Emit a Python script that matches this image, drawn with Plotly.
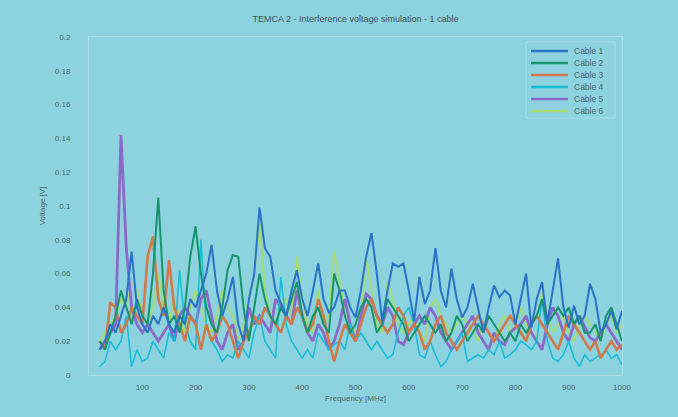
import plotly.graph_objects as go

freq_mhz = list(range(20, 1001, 10))

cable1 = [0.015, 0.02, 0.03, 0.025, 0.035, 0.045, 0.073, 0.04, 0.03, 0.025,
          0.035, 0.03, 0.04, 0.03, 0.025, 0.035, 0.03, 0.045, 0.04, 0.05,
          0.06, 0.077, 0.05, 0.035, 0.045, 0.058, 0.03, 0.02, 0.045, 0.06,
          0.099, 0.075, 0.07, 0.05, 0.042, 0.035, 0.05, 0.062, 0.045, 0.035,
          0.05, 0.066, 0.045, 0.037, 0.04, 0.05, 0.05, 0.04, 0.034, 0.05,
          0.07, 0.084, 0.06, 0.032, 0.05, 0.066, 0.064, 0.066, 0.05, 0.032,
          0.058, 0.042, 0.05, 0.075, 0.05, 0.04, 0.063, 0.045, 0.034, 0.04,
          0.054, 0.04, 0.025, 0.04, 0.053, 0.046, 0.05, 0.047, 0.03, 0.045,
          0.06, 0.028, 0.045, 0.055, 0.031, 0.05, 0.069, 0.04, 0.028, 0.041,
          0.03, 0.035, 0.054, 0.045, 0.025, 0.03, 0.038, 0.027, 0.038]

cable2 = [0.02, 0.015, 0.025, 0.035, 0.05, 0.04, 0.03, 0.045, 0.035, 0.03,
          0.06, 0.105, 0.05, 0.03, 0.035, 0.025, 0.04, 0.07, 0.088, 0.06,
          0.04, 0.03, 0.025, 0.04, 0.062, 0.071, 0.07, 0.04, 0.02, 0.04,
          0.06, 0.045, 0.035, 0.03, 0.04, 0.035, 0.045, 0.055, 0.035, 0.025,
          0.035, 0.04, 0.03, 0.025, 0.06, 0.05, 0.035, 0.025, 0.03, 0.04,
          0.045, 0.04, 0.025, 0.03, 0.045, 0.04, 0.035, 0.03, 0.02, 0.025,
          0.03, 0.035, 0.03, 0.025, 0.03, 0.02, 0.025, 0.035, 0.03, 0.02,
          0.025, 0.03, 0.025, 0.035, 0.03, 0.025, 0.02, 0.025, 0.02, 0.03,
          0.025, 0.03, 0.035, 0.045, 0.03, 0.035, 0.04, 0.035, 0.04, 0.03,
          0.035, 0.025, 0.025, 0.03, 0.02, 0.035, 0.04, 0.03, 0.02]

cable3 = [0.02, 0.015, 0.043, 0.04, 0.025, 0.03, 0.04, 0.035, 0.03, 0.07,
          0.082, 0.045, 0.035, 0.068, 0.04, 0.03, 0.02, 0.035, 0.03, 0.015,
          0.03, 0.02, 0.025, 0.035, 0.03, 0.02, 0.01, 0.02, 0.025, 0.035,
          0.03, 0.04, 0.035, 0.03, 0.025, 0.035, 0.03, 0.04, 0.035, 0.025,
          0.03, 0.045, 0.035, 0.02, 0.008, 0.02, 0.03, 0.025, 0.02, 0.03,
          0.04, 0.045, 0.035, 0.03, 0.025, 0.03, 0.04, 0.035, 0.025, 0.03,
          0.025, 0.015, 0.02, 0.03, 0.035, 0.025, 0.02, 0.015, 0.02, 0.025,
          0.03, 0.035, 0.03, 0.025, 0.02, 0.025, 0.03, 0.035, 0.03, 0.025,
          0.02, 0.03, 0.035, 0.03, 0.025, 0.02, 0.015, 0.025, 0.035, 0.03,
          0.025, 0.02, 0.015, 0.02, 0.01, 0.015, 0.02, 0.015, 0.018]

cable4 = [0.005, 0.008, 0.02, 0.015, 0.02, 0.035, 0.005, 0.015, 0.008, 0.01,
          0.02, 0.015, 0.01, 0.025, 0.02, 0.062, 0.03, 0.02, 0.015, 0.08,
          0.03, 0.02, 0.015, 0.008, 0.012, 0.01, 0.02, 0.015, 0.01, 0.025,
          0.035, 0.02, 0.015, 0.01, 0.058, 0.03, 0.02, 0.015, 0.01, 0.015,
          0.01, 0.025, 0.02, 0.015, 0.018, 0.02, 0.015, 0.03, 0.02, 0.025,
          0.02, 0.015, 0.02, 0.015, 0.01, 0.012, 0.025, 0.035, 0.04, 0.03,
          0.012, 0.01, 0.02, 0.012, 0.005, 0.008, 0.015, 0.02, 0.025, 0.008,
          0.01, 0.012, 0.01, 0.015, 0.012, 0.02, 0.01, 0.012, 0.015, 0.02,
          0.018, 0.015, 0.02, 0.045, 0.02, 0.01, 0.008, 0.012, 0.02, 0.01,
          0.005, 0.012, 0.008, 0.01, 0.012, 0.015, 0.01, 0.012, 0.006]

cable5 = [0.015, 0.02, 0.025, 0.03, 0.142, 0.075, 0.04, 0.03, 0.025, 0.03,
          0.025, 0.02, 0.025, 0.03, 0.02, 0.035, 0.04, 0.035, 0.03, 0.045,
          0.05, 0.035, 0.02, 0.015, 0.025, 0.03, 0.015, 0.02, 0.04, 0.03,
          0.035, 0.03, 0.025, 0.045, 0.04, 0.035, 0.03, 0.05, 0.035, 0.025,
          0.02, 0.03, 0.025, 0.015, 0.02, 0.03, 0.045, 0.03, 0.02, 0.035,
          0.048, 0.045, 0.035, 0.03, 0.04, 0.035, 0.02, 0.018, 0.025, 0.03,
          0.035, 0.03, 0.04, 0.035, 0.025, 0.02, 0.015, 0.02, 0.025, 0.03,
          0.035, 0.025, 0.02, 0.015, 0.025, 0.02, 0.018, 0.025, 0.028, 0.03,
          0.035, 0.025, 0.02, 0.015, 0.03, 0.04, 0.035, 0.025, 0.02, 0.03,
          0.035, 0.028, 0.022, 0.02, 0.025, 0.03, 0.025, 0.02, 0.015]

cable6 = [0.02, 0.025, 0.03, 0.035, 0.045, 0.04, 0.055, 0.05, 0.035, 0.03,
          0.04, 0.06, 0.04, 0.03, 0.045, 0.035, 0.025, 0.04, 0.05, 0.04,
          0.03, 0.025, 0.035, 0.05, 0.04, 0.035, 0.02, 0.03, 0.045, 0.06,
          0.09, 0.05, 0.035, 0.03, 0.04, 0.045, 0.035, 0.07, 0.045, 0.03,
          0.025, 0.05, 0.03, 0.035, 0.073, 0.055, 0.04, 0.03, 0.025, 0.03,
          0.07, 0.05, 0.03, 0.025, 0.055, 0.045, 0.03, 0.025, 0.03, 0.035,
          0.025, 0.02, 0.04, 0.045, 0.035, 0.03, 0.025, 0.03, 0.035, 0.03,
          0.025, 0.02, 0.03, 0.025, 0.02, 0.03, 0.035, 0.025, 0.03, 0.04,
          0.03, 0.025, 0.02, 0.05, 0.035, 0.025, 0.03, 0.035, 0.025, 0.02,
          0.03, 0.035, 0.03, 0.025, 0.02, 0.03, 0.035, 0.025, 0.03]

series_names = ["Cable 1", "Cable 2", "Cable 3", "Cable 4", "Cable 5", "Cable 6"]
series_values = [cable1, cable2, cable3, cable4, cable5, cable6]

x_ticks = [100, 200, 300, 400, 500, 600, 700, 800, 900, 1000]
y_ticks = [0, 0.02, 0.04, 0.06, 0.08, 0.1, 0.12, 0.14, 0.16, 0.18, 0.2]
y_tick_labels = ["0", "0.02", "0.04", "0.06", "0.08", "0.1", "0.12", "0.14", "0.16", "0.18", "0.2"]

colors = ["#2a72c8", "#16946c", "#d07a4c", "#1cbcd8", "#8a6ac8", "#a6da72"]
widths = [2, 2, 2.6, 1.6, 2.8, 2]

bg = "#8cd3df"
frame = "#a9dee7"
txt = "#4d6468"

W, H = 678, 417
L, R, T, B = 89, 56, 37, 42
PW, PH = W - L - R, H - T - B


def px_x(p):
    return (p - L) / PW


def px_y(p):
    return (H - B - p) / PH


fig = go.Figure()
draw_order = [5, 4, 3, 2, 1, 0]
for i in draw_order:
    fig.add_trace(go.Scatter(
        x=freq_mhz, y=series_values[i], mode="lines", name=series_names[i],
        line=dict(color=colors[i], width=widths[i]), showlegend=False,
    ))

# legend box drawn as layout decoration (plotly's legend rows cannot be this tight)
shapes = [dict(type="rect", xref="paper", yref="paper",
               x0=px_x(526), x1=px_x(615), y0=px_y(118), y1=px_y(42),
               fillcolor=bg, line=dict(color=frame, width=1), layer="above")]
annotations = []
for i, name in enumerate(series_names):
    yy = px_y(51 + 12 * i)
    shapes.append(dict(type="line", xref="paper", yref="paper",
                       x0=px_x(531), x1=px_x(568), y0=yy, y1=yy,
                       line=dict(color=colors[i], width=2.5), layer="above"))
    annotations.append(dict(text=name, xref="paper", yref="paper", x=px_x(572), y=yy,
                            xanchor="left", yanchor="middle", showarrow=False,
                            font=dict(size=8.5, color=txt)))

fig.update_layout(
    width=W, height=H,
    margin=dict(l=L, r=R, t=T, b=B, autoexpand=False),
    paper_bgcolor=bg, plot_bgcolor=bg,
    font=dict(family="Liberation Sans, Arial, sans-serif", size=8, color=txt),
    title=dict(text="TEMCA 2 - Interference voltage simulation - 1 cable",
               x=0.5, xref="paper", xanchor="center", y=1 - 19 / H, yanchor="middle",
               font=dict(size=9, color="#3e5256")),
    showlegend=False,
    shapes=shapes,
    annotations=annotations,
)
fig.update_xaxes(range=[0, 1000], tickvals=x_ticks, ticktext=[str(v) for v in x_ticks],
                 showgrid=False, zeroline=False, showline=True, linecolor=frame,
                 mirror=True, ticks="", ticklabelstandoff=4,
                 title=dict(text="Frequency [MHz]", standoff=4, font=dict(size=8, color=txt)))
fig.update_yaxes(range=[0, 0.2], tickvals=y_ticks, ticktext=y_tick_labels,
                 showgrid=False, zeroline=False, showline=True, linecolor=frame,
                 mirror=True, ticks="", ticklabelstandoff=16,
                 title=dict(text="Voltage [V]", standoff=8, font=dict(size=8, color=txt)))

fig.write_html("out.html",
               config={"displayModeBar": False},
               post_script="document.body.style.margin='0px';"
                           "document.body.style.background='" + bg + "';")
